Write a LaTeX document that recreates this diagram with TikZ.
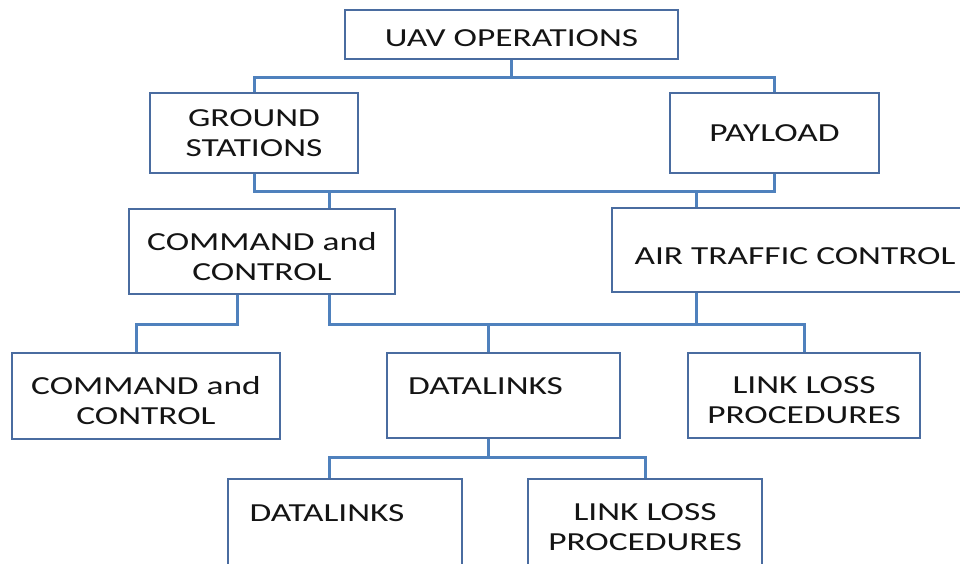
\documentclass[tikz,border=0pt]{standalone}
\usepackage{fontspec}
\setmainfont{Carlito}[FakeStretch=1.36]
\usetikzlibrary{positioning}
\definecolor{box_blue}{RGB}{74,108,160}
\definecolor{link_blue}{RGB}{79,129,189}
\definecolor{text_gray}{RGB}{20,20,20}
\newcommand{\boxstrut}[1]{\rule{0pt}{#1}}
\tikzstyle{ops_box} = [
    rectangle,
    draw=box_blue,
    line width=2.4pt,
    fill=white,
    text=text_gray,
    align=center,
    inner sep=0pt,
    font=\fontsize{26}{30}\selectfont
]
\tikzstyle{link} = [
    draw=link_blue,
    line width=3pt
]

\begin{document}
\begin{tikzpicture}[x=1pt, y=1pt]
\useasboundingbox (0,0) rectangle (960,-564);
\clip (0,0) rectangle (960,-564);
% boxes
\node [ops_box, minimum width=333, minimum height=49] (uav) at (511.5,-34.5) {\boxstrut{25pt}UAV OPERATIONS};
\node [ops_box, minimum width=208, minimum height=80] (ground) at (254,-133) {GROUND\\STATIONS};
\node [ops_box, minimum width=209, minimum height=80] (payload) at (774.5,-133) {PAYLOAD};
\node [ops_box, minimum width=266, minimum height=85] (cmd) at (262,-251.5) {\boxstrut{27.5pt}COMMAND and\\CONTROL};
\node [ops_box, minimum width=366, minimum height=84] (atc) at (795,-250) {\boxstrut{29pt}AIR TRAFFIC CONTROL};
\node [ops_box, minimum width=268, minimum height=86] (cmd_low) at (146,-396) {\boxstrut{27pt}COMMAND and\\CONTROL};
\node [ops_box, minimum width=233, minimum height=85] (datalinks) at (503.5,-395.5) {\boxstrut{28pt}DATALINKS\hspace*{36pt}\\[-9pt]\strut};
\node [ops_box, minimum width=232, minimum height=85] (linkloss) at (804,-395.5) {\boxstrut{27pt}LINK LOSS\\PROCEDURES};
\node [ops_box, minimum width=234, minimum height=86] (datalinks_low) at (345,-522) {\boxstrut{28pt}DATALINKS\hspace*{36pt}\\[-9pt]\strut};
\node [ops_box, minimum width=234, minimum height=86] (linkloss_low) at (645,-522) {\boxstrut{27pt}LINK LOSS\\PROCEDURES};

% connectors
\draw [link] (uav.south) -- ++(0,-17) coordinate (top_bus);
\draw [link] (ground.north) |- (top_bus) -| (payload.north);
\draw [link] (ground.south) |- (512,-191) coordinate (mid_bus) -| (payload.south);
\draw [link] ([xshift=67pt]cmd.north) -- ([xshift=67pt]cmd.north |- mid_bus);
\draw [link] ([xshift=-99pt]atc.north) -- ([xshift=-99pt]atc.north |- mid_bus);
\draw [link] ([xshift=-25pt]cmd.south) -- ++(0,-29) -| ([xshift=-10pt]cmd_low.north);
\draw [link] ([xshift=67pt]cmd.south) -- ++(0,-29) coordinate (low_bus) -| (linkloss.north);
\draw [link] ([xshift=-99pt]atc.south) -- ([xshift=-99pt]atc.south |- low_bus);
\draw [link] ([xshift=-15pt]datalinks.north) -- ([xshift=-15pt]datalinks.north |- low_bus);
\draw [link] ([xshift=-15pt]datalinks.south) -- ++(0,-18) coordinate (bot_bus);
\draw [link] ([xshift=-16pt]datalinks_low.north) |- (bot_bus) -| (linkloss_low.north);
\end{tikzpicture}
\end{document}
